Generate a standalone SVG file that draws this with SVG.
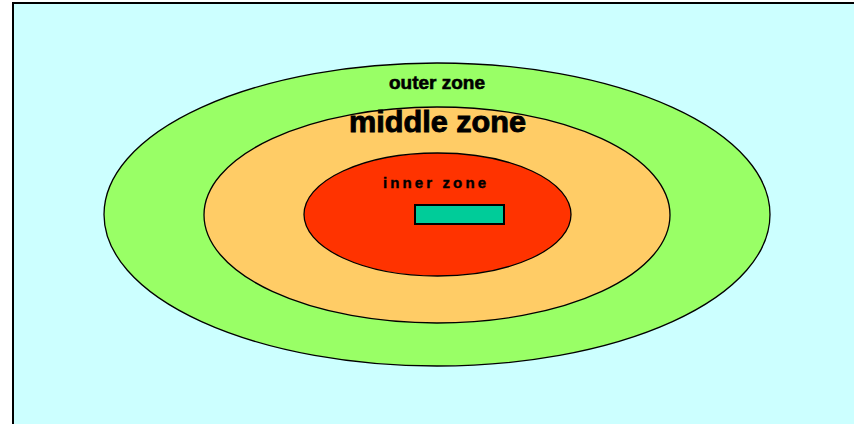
<svg xmlns="http://www.w3.org/2000/svg" width="854" height="424" viewBox="0 0 854 424">
<style>
.z{stroke:#000;stroke-width:1.3}
.t{font-family:"Liberation Sans",Arial,sans-serif;font-weight:bold;fill:#000;stroke:#000}
</style>
<rect width="854" height="424" fill="#fff"/>
<rect x="13" y="3" width="860" height="440" fill="#CCFFFF" stroke="#000" stroke-width="2"/>
<g id="outer"><ellipse class="z" cx="437" cy="214.5" rx="333" ry="151.5" fill="#99FF66"/>
<text class="t" x="389" y="89" font-size="19" stroke-width="0.6" textLength="96" lengthAdjust="spacingAndGlyphs">outer zone</text></g>
<g id="middle"><ellipse class="z" cx="437" cy="215" rx="233" ry="108" fill="#FFCC66"/>
<text class="t" x="349" y="132" font-size="30" stroke-width="0.9" textLength="177" lengthAdjust="spacingAndGlyphs">middle zone</text></g>
<g id="inner"><ellipse class="z" cx="437.5" cy="214.5" rx="133.5" ry="61.5" fill="#FF3300"/>
<text class="t" x="383" y="188" font-size="15" stroke-width="0.4" letter-spacing="3" textLength="106">inner zone</text></g>
<g id="core"><rect x="415" y="205" width="89" height="19" fill="#00CC99" stroke="#000" stroke-width="2"/></g>
</svg>
